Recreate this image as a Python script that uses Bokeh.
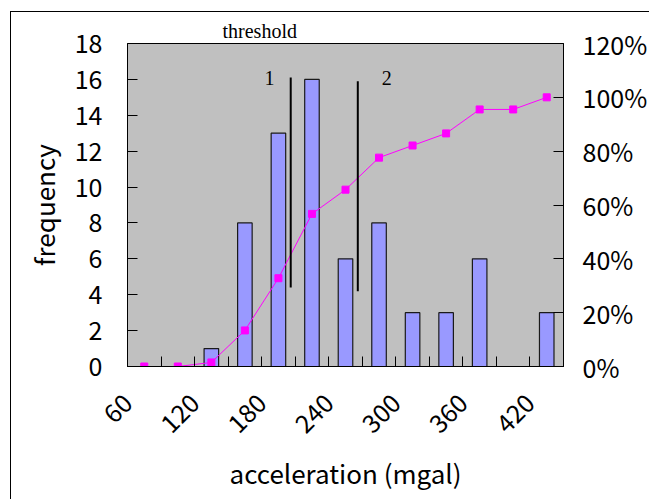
from bokeh.plotting import figure
from bokeh.models import (Range1d, LinearAxis, FixedTicker, PrintfTickFormatter,
                          Label, ColumnDataSource)
from bokeh.embed import file_html
from bokeh.resources import INLINE

# Histogram of peak acceleration, 30 mgal bins
bin_centers = [75, 105, 135, 165, 195, 225, 255, 285, 315, 345, 375, 405, 435]
frequency = [0, 0, 1, 8, 13, 16, 6, 8, 3, 3, 6, 0, 3]
cumulative_pct = [0, 0, 1.5, 13.4, 32.8, 56.7, 65.7, 77.6, 82.1, 86.6, 95.5, 95.5, 100]

x_labels = [60, 120, 180, 240, 300, 360, 420]
x_minor = [90, 150, 210, 270, 330, 390, 450]

# Threshold markers: position and vertical extent (frequency units)
threshold_x = [206, 266]
threshold_y0 = [4.4, 4.2]
threshold_y1 = [16.1, 15.9]
threshold_names = ["1", "2"]
threshold_name_x = [187, 292]

AX_FONT = "Noto Sans CJK JP"

p = figure(width=639, height=488, x_range=Range1d(60, 450), y_range=Range1d(0, 18),
           output_backend="svg", toolbar_location=None,
           min_border_left=116, min_border_right=84, min_border_top=31, min_border_bottom=134,
           background_fill_color="#C0C0C0", border_fill_color="white")
p.margin = (11, 0, 0, 10)
p.styles = {"border-left": "1px solid black", "border-top": "1px solid black"}
p.outline_line_color = "black"
p.outline_line_width = 1
p.xgrid.visible = False
p.ygrid.visible = False

# heading over the threshold markers
p.title.text = "threshold"
p.title.align = "left"
p.title.offset = 95
p.title.standoff = 3
p.title.text_font = "Liberation Serif"
p.title.text_font_size = "20px"
p.title.text_font_style = "normal"
p.title.text_color = "black"

p.extra_y_ranges = {"pct": Range1d(0, 120)}

# bars
src = ColumnDataSource(dict(x=bin_centers, top=frequency))
p.vbar(x="x", top="top", width=13, source=src, fill_color="#9999FF",
       line_color="#1a1a1a", line_width=1.2)

# cumulative percentage
csrc = ColumnDataSource(dict(x=bin_centers, y=cumulative_pct))
p.line("x", "y", source=csrc, y_range_name="pct", line_color="#FF00FF", line_width=1)
p.scatter("x", "y", source=csrc, y_range_name="pct", marker="square", size=7,
          fill_color="#FF00FF", line_color="#FF00FF")

# threshold lines
p.segment(x0=threshold_x, y0=threshold_y0, x1=threshold_x, y1=threshold_y1,
          line_color="black", line_width=2)
for name, nx in zip(threshold_names, threshold_name_x):
    p.add_layout(Label(x=nx, y=16.1, text=name, text_font="Liberation Serif",
                       text_font_size="20px", text_align="center", text_baseline="middle",
                       text_color="black"))

# x axis
xa = p.xaxis[0]
xa.ticker = FixedTicker(ticks=x_labels, minor_ticks=x_minor)
xa.major_label_orientation = 0.785398
xa.major_tick_in = 10
xa.major_tick_out = 0
xa.minor_tick_in = 10
xa.minor_tick_out = 0
xa.major_label_standoff = 32
xa.axis_label = "acceleration (mgal)"
xa.axis_label_standoff = 10

# left axis
ya = p.yaxis[0]
ya.ticker = FixedTicker(ticks=list(range(0, 19, 2)))
ya.major_tick_in = 10
ya.major_tick_out = 0
ya.minor_tick_line_color = None
ya.major_label_standoff = 25
ya.axis_label = "frequency"
ya.axis_label_standoff = 10

# right axis
ra = LinearAxis(y_range_name="pct", ticker=FixedTicker(ticks=[0, 20, 40, 60, 80, 100, 120]),
                formatter=PrintfTickFormatter(format="%d%%"))
ra.major_tick_in = 10
ra.major_tick_out = 0
ra.minor_tick_line_color = None
ra.major_label_standoff = 19
p.add_layout(ra, "right")

for ax in (xa, ya, ra):
    ax.axis_line_color = "black"
    ax.major_tick_line_color = "black"
    ax.major_label_text_font = AX_FONT
    ax.major_label_text_font_size = "25px"
    ax.major_label_text_color = "black"
    ax.axis_label_text_font = AX_FONT
    ax.axis_label_text_font_size = "26px"
    ax.axis_label_text_font_style = "normal"
    ax.axis_label_text_color = "black"
xa.minor_tick_line_color = "black"

open("out.html", "w").write(file_html(p, INLINE))
